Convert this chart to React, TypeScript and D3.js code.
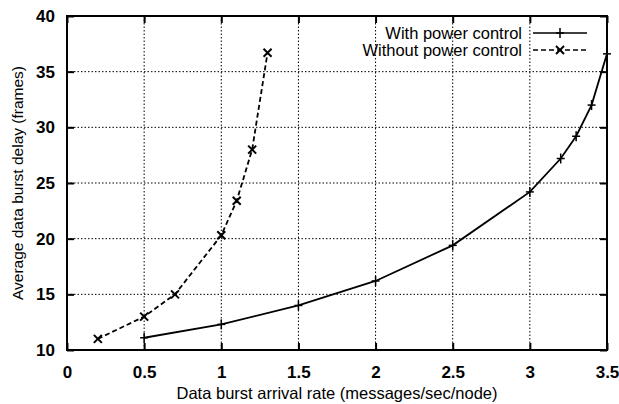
import React, { useRef, useEffect } from 'react';
import * as d3 from 'd3';

// "With power control"
const withX = [0.5, 1.0, 1.5, 2.0, 2.5, 3.0, 3.2, 3.3, 3.4, 3.5];
const withY = [11.1, 12.3, 14.0, 16.2, 19.4, 24.2, 27.2, 29.2, 32.0, 36.6];

// "Without power control"
const withoutX = [0.2, 0.5, 0.7, 1.0, 1.1, 1.2, 1.3];
const withoutY = [11.0, 13.0, 15.0, 20.3, 23.4, 28.0, 36.7];

const xTicks = [0, 0.5, 1, 1.5, 2, 2.5, 3, 3.5];
const yTicks = [10, 15, 20, 25, 30, 35, 40];

const App = () => {
  const svgRef = useRef<SVGSVGElement>(null);

  useEffect(() => {
    const svg = d3.select(svgRef.current);
    svg.selectAll('*').remove();

    const margin = { top: 16, right: 12, bottom: 54, left: 67 };
    const width = 619;
    const height = 404;
    const w = width - margin.left - margin.right;
    const h = height - margin.top - margin.bottom;
    const font = 'Liberation Sans, Arial, sans-serif';

    const g = svg.append('g').attr('transform', `translate(${margin.left},${margin.top})`);

    const x = d3.scaleLinear().domain([0, 3.5]).range([0, w]);
    const y = d3.scaleLinear().domain([10, 40]).range([h, 0]);

    // grid
    g.selectAll('.vgrid')
      .data(xTicks.slice(1, -1))
      .enter().append('line')
      .attr('x1', d => x(d)).attr('x2', d => x(d))
      .attr('y1', 0).attr('y2', h)
      .attr('stroke', '#000').attr('stroke-width', 1)
      .attr('stroke-dasharray', '1.5,2');
    g.selectAll('.hgrid')
      .data(yTicks.slice(1, -1))
      .enter().append('line')
      .attr('x1', 0).attr('x2', w)
      .attr('y1', d => y(d)).attr('y2', d => y(d))
      .attr('stroke', '#000').attr('stroke-width', 1)
      .attr('stroke-dasharray', '1.5,2');

    // axes with inward ticks
    const xAxis = g.append('g').attr('transform', `translate(0,${h})`)
      .call(d3.axisBottom(x).tickValues(xTicks).tickSize(-7).tickPadding(16).tickFormat(d3.format('')));
    const xTop = g.append('g')
      .call(d3.axisTop(x).tickValues(xTicks).tickSize(-7).tickFormat(() => ''));
    const yAxis = g.append('g')
      .call(d3.axisLeft(y).tickValues(yTicks).tickSize(-7).tickPadding(12));
    const yRight = g.append('g').attr('transform', `translate(${w},0)`)
      .call(d3.axisRight(y).tickValues(yTicks).tickSize(-7).tickFormat(() => ''));

    [xAxis, xTop, yAxis, yRight].forEach(a => {
      a.select('.domain').remove();
      a.selectAll('line').attr('stroke', '#000').attr('stroke-width', 2);
      a.selectAll('text')
        .attr('fill', '#000')
        .style('font-family', font)
        .style('font-size', '17px')
        .style('font-weight', 'bold');
    });

    // frame
    g.append('rect')
      .attr('x', 0).attr('y', 0).attr('width', w).attr('height', h)
      .attr('fill', 'none').attr('stroke', '#000').attr('stroke-width', 2);

    const withData = withX.map((v, i) => [v, withY[i]] as [number, number]);
    const withoutData = withoutX.map((v, i) => [v, withoutY[i]] as [number, number]);

    const line = d3.line<[number, number]>()
      .x(d => x(d[0]))
      .y(d => y(d[1]));

    g.append('path').datum(withData)
      .attr('d', line).attr('fill', 'none')
      .attr('stroke', '#000').attr('stroke-width', 1.8);
    g.append('path').datum(withoutData)
      .attr('d', line).attr('fill', 'none')
      .attr('stroke', '#000').attr('stroke-width', 1.8)
      .attr('stroke-dasharray', '5,3');

    // plus markers
    const plus = (sel: any, cx: number, cy: number) => {
      sel.append('line').attr('x1', cx - 4).attr('x2', cx + 4).attr('y1', cy).attr('y2', cy)
        .attr('stroke', '#000').attr('stroke-width', 1.5);
      sel.append('line').attr('x1', cx).attr('x2', cx).attr('y1', cy - 5).attr('y2', cy + 5)
        .attr('stroke', '#000').attr('stroke-width', 1.5);
    };
    const cross = (sel: any, cx: number, cy: number) => {
      sel.append('line').attr('x1', cx - 4).attr('x2', cx + 4).attr('y1', cy - 4).attr('y2', cy + 4)
        .attr('stroke', '#000').attr('stroke-width', 2);
      sel.append('line').attr('x1', cx - 4).attr('x2', cx + 4).attr('y1', cy + 4).attr('y2', cy - 4)
        .attr('stroke', '#000').attr('stroke-width', 2);
    };
    withData.forEach(d => plus(g, x(d[0]), y(d[1])));
    withoutData.forEach(d => cross(g, x(d[0]), y(d[1])));

    // legend
    const legend = [
      { label: 'With power control', dash: null, mark: plus },
      { label: 'Without power control', dash: '5,3', mark: cross },
    ];
    legend.forEach((l, i) => {
      const ly = 17 + i * 17;
      g.append('text')
        .attr('x', 455).attr('y', ly).attr('dy', '0.35em')
        .attr('text-anchor', 'end')
        .style('font-family', font).style('font-size', '16.5px')
        .attr('fill', '#000')
        .text(l.label);
      g.append('line')
        .attr('x1', 466).attr('x2', 520).attr('y1', ly).attr('y2', ly)
        .attr('stroke', '#000').attr('stroke-width', 1.5)
        .attr('stroke-dasharray', l.dash);
      l.mark(g, 493, ly);
    });

    // axis labels
    svg.append('text')
      .attr('x', margin.left + w / 2).attr('y', 399)
      .attr('text-anchor', 'middle')
      .style('font-family', font).style('font-size', '16.5px')
      .attr('fill', '#000')
      .text('Data burst arrival rate (messages/sec/node)');
    svg.append('text')
      .attr('transform', `translate(23,${margin.top + h / 2}) rotate(-90)`)
      .attr('text-anchor', 'middle')
      .style('font-family', font).style('font-size', '15.5px')
      .attr('fill', '#000')
      .text('Average data burst delay (frames)');
  }, []);

  return (
    <svg ref={svgRef} width={619} height={404}
      style={{ position: 'absolute', left: 0, top: 0, background: '#fff' }} />
  );
};

export default App;
